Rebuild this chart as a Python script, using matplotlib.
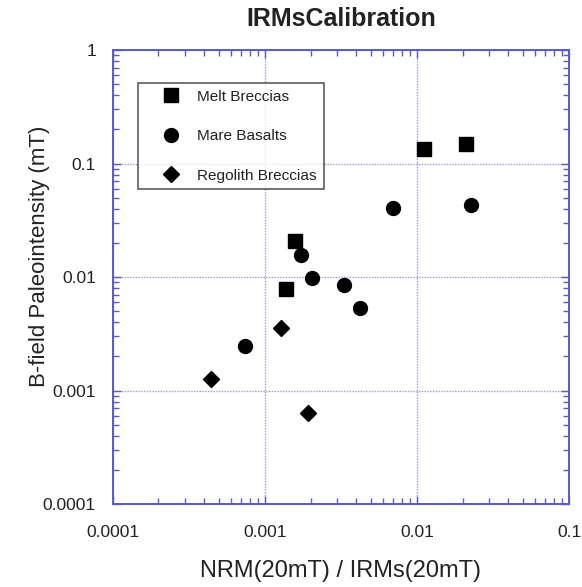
import matplotlib
matplotlib.use("Agg")
import matplotlib.pyplot as plt
from matplotlib.ticker import LogLocator, FixedLocator, FixedFormatter, NullFormatter

plt.rcParams['font.family'] = ['Liberation Sans', 'DejaVu Sans']

# NRM(20mT)/IRMs(20mT) ratio and paleointensity (mT) per sample group
melt_x = [0.00137, 0.00159, 0.0111, 0.0211]
melt_y = [0.0078, 0.0208, 0.135, 0.149]

mare_x = [0.00074, 0.00174, 0.00203, 0.0033, 0.0042, 0.0070, 0.0228]
mare_y = [0.00246, 0.0157, 0.0099, 0.0085, 0.0053, 0.0408, 0.0431]

rego_x = [0.00044, 0.00127, 0.00192]
rego_y = [0.00126, 0.00358, 0.00063]

x_ticks = [0.0001, 0.001, 0.01, 0.1]
x_labels = ["0.0001", "0.001", "0.01", "0.1"]
y_ticks = [0.0001, 0.001, 0.01, 0.1, 1]
y_labels = ["0.0001", "0.001", "0.01", "0.1", "1"]

axis_blue = "#5a5ac8"
grid_blue = "#9a9ae0"
text_col = "#222222"

fig = plt.figure(figsize=(5.82, 5.87), dpi=100)
ax = fig.add_axes([0.1935, 0.1410, 0.7842, 0.7738])

ax.set_xscale("log")
ax.set_yscale("log")
ax.set_xlim(0.0001, 0.1)
ax.set_ylim(0.0001, 1)

ax.plot(melt_x, melt_y, linestyle="none", marker="s", markersize=9.5,
        color="black", label="Melt Breccias")
ax.plot(mare_x, mare_y, linestyle="none", marker="o", markersize=10,
        color="black", label="Mare Basalts")
ax.plot(rego_x, rego_y, linestyle="none", marker="D", markersize=8,
        color="black", label="Regolith Breccias")

ax.xaxis.set_major_locator(FixedLocator(x_ticks))
ax.xaxis.set_major_formatter(FixedFormatter(x_labels))
ax.yaxis.set_major_locator(FixedLocator(y_ticks))
ax.yaxis.set_major_formatter(FixedFormatter(y_labels))
ax.xaxis.set_minor_locator(LogLocator(base=10, subs=range(2, 10), numticks=20))
ax.yaxis.set_minor_locator(LogLocator(base=10, subs=range(2, 10), numticks=20))
ax.xaxis.set_minor_formatter(NullFormatter())
ax.yaxis.set_minor_formatter(NullFormatter())

ax.grid(True, which="major", color=grid_blue, linestyle=(0, (1, 1)), linewidth=1.0)
ax.set_axisbelow(True)

for sp in ax.spines.values():
    sp.set_color(axis_blue)
    sp.set_linewidth(1.4)

ax.tick_params(which="both", direction="in", top=True, right=True,
               color=axis_blue, labelcolor=text_col, labelsize=12.5)
ax.tick_params(which="major", length=6, width=1.0, pad=12)
ax.tick_params(which="minor", length=4, width=1.0)
ax.tick_params(axis="x", which="major", pad=15)

ax.set_xlabel("NRM(20mT) / IRMs(20mT)", fontsize=17, color=text_col, labelpad=14)
ax.set_ylabel("B-field Paleointensity (mT)", fontsize=16, color=text_col)
ax.yaxis.set_label_coords(-0.138, 0.546)
ax.set_title("IRMsCalibration", fontsize=18, fontweight="bold", color=text_col, pad=17)

leg = ax.legend(loc="upper left", bbox_to_anchor=(0.055, 0.928), fontsize=11.1,
                frameon=True, fancybox=False, edgecolor="#333333",
                handletextpad=0.0, labelspacing=1.65, borderpad=0.45,
                handlelength=3.4, borderaxespad=0)
leg.get_frame().set_linewidth(1.2)
for t in leg.get_texts():
    t.set_color(text_col)

fig.savefig("out.png", dpi=100)
